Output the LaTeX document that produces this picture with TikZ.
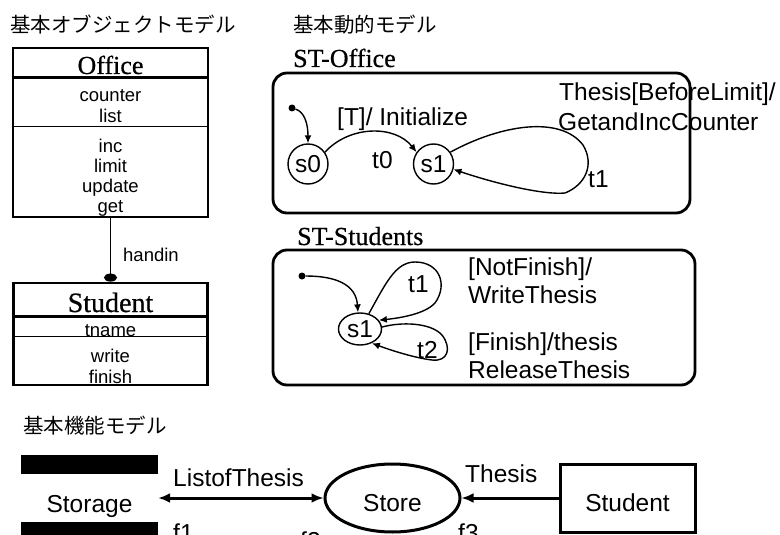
\documentclass[tikz,border=0pt]{standalone}
\usepackage{fontspec}
\setmainfont{Liberation Sans}
\newfontfamily\jpfont{Noto Sans CJK JP}
\newfontfamily\titlefont[FakeBold=0.6]{Liberation Serif}
\usepackage{tikz}
\usetikzlibrary{arrows.meta,shapes.geometric,positioning}

\begin{document}
\begin{tikzpicture}[x=1pt, y=-1pt,
    member/.style={font=\fontsize{18.5}{20}\selectfont, anchor=base, inner sep=0pt},
    bigtext/.style={font=\fontsize{24.5}{29}\selectfont, anchor=base west, inner sep=0pt},
    boxtext/.style={font=\fontsize{24.5}{29}\selectfont, text height=27pt, text depth=0pt, inner sep=0pt},
    heading/.style={font=\jpfont\fontsize{20.5}{24}\selectfont, anchor=base west, inner sep=0pt},
    classname/.style={font=\titlefont\fontsize{26}{30}\selectfont, anchor=base, inner sep=0pt},
    chartname/.style={font=\titlefont\fontsize{26}{30}\selectfont, anchor=base west, inner sep=0pt},
    classbox/.style={draw, line width=2.8pt, inner sep=0pt},
    statebox/.style={draw, circle, line width=1.4pt, minimum size=40pt, inner sep=0pt, font=\fontsize{24.5}{29}\selectfont},
    startdot/.style={circle, fill, inner sep=0pt, minimum size=7pt},
    frame/.style={line width=2.8pt, rounded corners=14pt},
    trans/.style={line width=1.4pt, -{Latex[length=8pt,width=7pt]}},
    flow/.style={line width=3pt, -{Latex[length=12pt,width=10pt]}}]
    \useasboundingbox (0,0) rectangle (780,535);

    % Headings
    \node[heading] (hobj) at (10,33) {基本オブジェクトモデル};
    \node[heading] (hdyn) at (293,33) {基本動的モデル};
    \node[heading] (hfun) at (23,433) {基本機能モデル};

    % Class Office
    \node[classbox, minimum width=195pt, minimum height=169pt] (office) at (110.5,132.5) {};
    \draw[line width=2.8pt] (office.north west) ++(0,31) -- ++(195,0);
    \draw[line width=0.8pt] (office.north west) ++(0,80) -- ++(195,0);
    \node[classname] (officename) at (110.5,74) {Office};
    \node[member] (counter) at (110.5,102) {counter};
    \node[member] (list) at (110.5,122) {list};
    \node[member] (inc) at (110.5,152) {inc};
    \node[member] (limit) at (110.5,172) {limit};
    \node[member] (update) at (110.5,192) {update};
    \node[member] (get) at (110.5,212) {get};

    % Class Student
    \node[classbox, minimum width=194pt, minimum height=102pt] (student) at (110.5,334) {};
    \draw[line width=2.8pt] (student.north west) ++(0,35) -- ++(194,0);
    \draw[line width=0.8pt] (student.north west) ++(0,55) -- ++(194,0);
    \node[classname, font=\titlefont\fontsize{28}{32}\selectfont] (studentname) at (110.5,312) {Student};
    \node[member] (tname) at (110.5,336) {tname};
    \node[member] (write) at (110.5,362) {write};
    \node[member] (finish) at (110.5,383) {finish};

    % Association
    \draw[line width=1pt, -{Ellipse[length=8pt,width=13pt]}] (office.south) -- (student.north);
    \node[member, anchor=base west] (handin) at (123,261) {handin};

    % Statechart ST-Office
    \node[chartname] (stoffice) at (293,67) {ST-Office};
    \node[startdot] (init0) at (292,108) {};
    \node[statebox] (s0) at (308,164) {s0};
    \node[statebox] (s1) at (433.5,164) {s1};
    \draw[trans] (init0) .. controls (305,112) and (308,125) .. (s0.north);
    \draw[trans] (s0.35) .. controls (350,125) and (395,125) .. (s1.145);
    \draw[trans] (s1.35) .. controls (500,125) and (560,115) .. (583,145)
        .. controls (595,165) and (585,185) .. (565,193)
        .. controls (545,195) and (500,185) .. (s1.-15);
    \node[bigtext] (initialize) at (337,125) {[T]/ Initialize};
    \node[bigtext] (t0) at (372,168) {t0};
    \node[bigtext] (t1o) at (588,187) {t1};
    \node[bigtext] (thesisbl) at (559,100) {Thesis[BeforeLimit]/};
    \node[bigtext] (getinc) at (558,130) {GetandIncCounter};
    \draw[frame] (273,73) rectangle (690,213);

    % Statechart ST-Students
    \node[chartname] (ststudents) at (297,245) {ST-Students};
    \node[startdot] (init1) at (302,276) {};
    \node[draw, ellipse, line width=1.4pt, minimum width=43pt, minimum height=32pt, inner sep=0pt,
        font=\fontsize{24.5}{29}\selectfont] (ss1) at (360,329) {s1};
    \draw[trans] (init1) .. controls (335,276) and (356,284) .. (ss1.97);
    \draw[trans] (ss1.60) .. controls (385,285) and (395,262) .. (415,262)
        .. controls (440,262) and (448,285) .. (435,303)
        .. controls (425,314) and (400,318) .. (ss1.25);
    \draw[trans] (ss1.5) .. controls (400,322) and (430,322) .. (442,335)
        .. controls (452,348) and (448,362) .. (432,360)
        .. controls (415,358) and (390,350) .. (ss1.-50);
    \node[bigtext] (t1s) at (408,292) {t1};
    \node[bigtext] (t2s) at (417,358) {t2};
    \node[bigtext] (notfinish) at (468,275) {[NotFinish]/};
    \node[bigtext] (writethesis) at (468,303) {WriteThesis};
    \node[bigtext] (finishthesis) at (468,350) {[Finish]/thesis};
    \node[bigtext] (release) at (468,378) {ReleaseThesis};
    \draw[frame] (273,250) rectangle (695,385);

    % Functional model
    \fill (21,455) rectangle (158,474);
    \fill (21,522) rectangle (158,541);
    \node[boxtext, minimum width=137pt] (storage) at (89.5,498.5) {Storage};
    \node[boxtext, draw, ellipse, line width=3pt, minimum width=135pt, minimum height=68pt] (store) at (392.5,498) {Store};
    \node[boxtext, draw, line width=3pt, minimum width=135pt, minimum height=68pt] (stud) at (627.5,498) {Student};
    \draw[flow, {Latex[length=12pt,width=10pt]}-{Latex[length=12pt,width=10pt]}] (store.west -| storage.east) -- (store.west);
    \draw[flow] (stud) -- (store);
    \node[bigtext] (listof) at (173,486) {ListofThesis};
    \node[bigtext] (thesis) at (465,482) {Thesis};
    \node[bigtext] (f1) at (173,541) {f1};
    \node[bigtext] (f2) at (300,549) {f2};
    \node[bigtext] (f3) at (458,541) {f3};
\end{tikzpicture}
\end{document}
